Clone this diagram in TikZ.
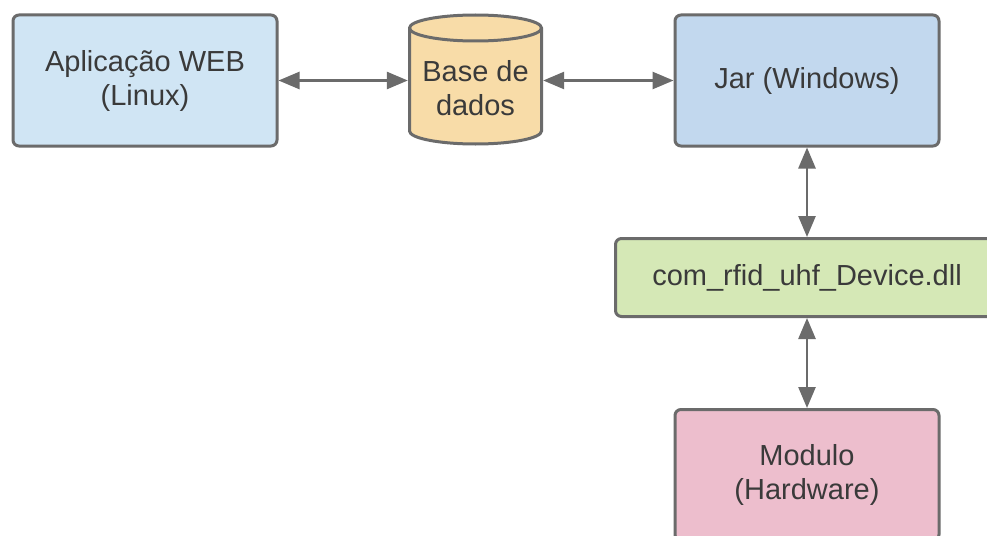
\documentclass[tikz,border=0pt]{standalone}
\usepackage{fontspec}
\setmainfont{Liberation Sans}
\usetikzlibrary{arrows.meta}
\definecolor{edge}{HTML}{6B6B6B}
\definecolor{txt}{HTML}{3A3A3A}
\definecolor{webfill}{HTML}{D0E5F4}
\definecolor{jarfill}{HTML}{C2D8EE}
\definecolor{dbfill}{HTML}{F8DCA8}
\definecolor{dllfill}{HTML}{D5E8B6}
\definecolor{modfill}{HTML}{EDBECD}
\tikzset{
  boxnode/.style={draw=edge, line width=3pt, rounded corners=6pt, align=center,
    text=txt, font=\fontsize{29}{34}\selectfont, inner sep=0pt},
  conn/.style={draw=edge, line width=2.6pt,
    {Triangle[length=21pt,width=17pt]}-{Triangle[length=21pt,width=17pt]}},
}
\begin{document}
\begin{tikzpicture}[x=1pt,y=1pt]
\useasboundingbox (0,0) rectangle (987,-535);
\fill[white] (0,0) rectangle (987,-535);
\clip (0,0) rectangle (987,-535);

\node[boxnode, fill=webfill, minimum width=264, minimum height=131] (web) at (145,-80.5)
  {Aplicação WEB\\(Linux)};
\node[boxnode, fill=jarfill, minimum width=264, minimum height=131] (jar) at (807,-80.5)
  {Jar (Windows)};
\node[boxnode, fill=dllfill, minimum width=383, minimum height=78] (dll) at (807,-277.5)
  {com\_rfid\_uhf\_Device.dll};
\node[boxnode, fill=modfill, minimum width=264, minimum height=131] (mod) at (807,-475)
  {Modulo\\(Hardware)};

% database cylinder
\filldraw[fill=dbfill, draw=edge, line width=3pt]
  (409.5,-28) -- (409.5,-131) arc[start angle=180, end angle=360, x radius=66, y radius=13]
  -- (541.5,-28) arc[start angle=0, end angle=180, x radius=66, y radius=13] -- cycle;
\draw[edge, line width=3pt] (409.5,-28) arc[start angle=180, end angle=360, x radius=66, y radius=13];
\node[inner sep=0pt, minimum width=135, minimum height=131,
  label={[text=txt, font=\fontsize{29}{34}\selectfont, align=center, yshift=-8pt]center:Base de\\dados}]
  (db) at (475.5,-80.5) {};

\draw[conn] (web.east) -- (db.west);
\draw[conn] (db.east) -- (jar.west);
\draw[conn] (jar.south) -- (dll.north);
\draw[conn] (dll.south) -- (mod.north);
\end{tikzpicture}
\end{document}
